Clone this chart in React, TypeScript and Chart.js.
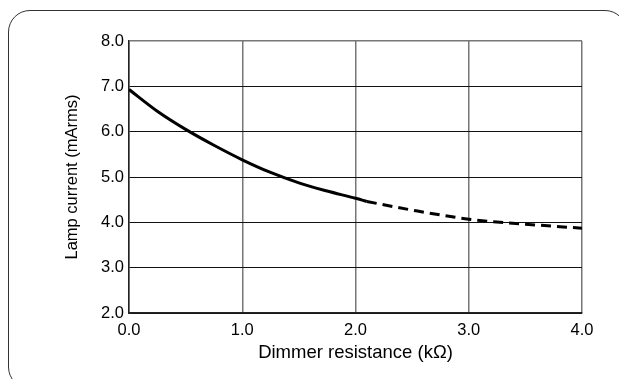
import React, { useEffect, useRef } from "react";
import { Chart, registerables } from "chart.js";

Chart.register(...registerables);

// Dimmer resistance (kΩ) and lamp current (mArms)
const solidX = [0, 0.25, 0.5, 0.75, 1.0, 1.25, 1.5, 1.75, 2.0, 2.1];
const solidY = [6.93, 6.45, 6.05, 5.70, 5.38, 5.10, 4.87, 4.69, 4.53, 4.46];
const dashedX = [2.1, 2.5, 3.0, 3.5, 4.0];
const dashedY = [4.46, 4.27, 4.07, 3.96, 3.87];
const xTicks = [0, 1, 2, 3, 4];
const yTicks = [2, 3, 4, 5, 6, 7, 8];

const FONT = "'Liberation Sans', Arial, Helvetica, sans-serif";

export default function App() {
  const ref = useRef<HTMLCanvasElement>(null);

  useEffect(() => {
    if (!ref.current) return;
    const chart = new Chart(ref.current, {
      type: "line",
      data: {
        datasets: [
          {
            data: solidX.map((x, i) => ({ x, y: solidY[i] })),
            borderColor: "#000",
            borderWidth: 3,
            pointRadius: 0,
            cubicInterpolationMode: "monotone",
            fill: false,
          },
          {
            data: dashedX.map((x, i) => ({ x, y: dashedY[i] })),
            borderColor: "#000",
            borderWidth: 3,
            borderDash: [10, 6],
            pointRadius: 0,
            cubicInterpolationMode: "monotone",
            fill: false,
          },
        ],
      },
      options: {
        animation: false,
        responsive: false,
        devicePixelRatio: 1,
        layout: { padding: { left: 0, top: 41, right: 37, bottom: 0 } },
        plugins: { legend: { display: false }, tooltip: { enabled: false } },
        scales: {
          x: {
            type: "linear",
            min: 0,
            max: 4,
            afterBuildTicks: (s: any) => {
              s.ticks = xTicks.map((v) => ({ value: v }));
            },
            afterFit: (s: any) => {
              s.height = 66;
            },
            ticks: {
              color: "#000",
              font: { family: FONT, size: 16.5 },
              padding: 8,
              callback: (v: any) => Number(v).toFixed(1),
              maxRotation: 0,
            },
            grid: {
              color: "#777",
              lineWidth: 1.5,
              drawTicks: false,
            },
            border: { display: true, color: "#222", width: 1.5 },
            title: {
              display: true,
              text: "Dimmer resistance (kΩ)",
              color: "#000",
              font: { family: FONT, size: 18.5 },
              padding: { top: 0, bottom: 15 },
            },
          },
          y: {
            type: "linear",
            min: 2,
            max: 8,
            afterBuildTicks: (s: any) => {
              s.ticks = yTicks.map((v) => ({ value: v }));
            },
            afterFit: (s: any) => {
              s.width = 129;
            },
            ticks: {
              color: "#000",
              font: { family: FONT, size: 16.5 },
              padding: 5,
              callback: (v: any) => Number(v).toFixed(1),
            },
            grid: {
              color: (ctx: any) => (ctx.tick && ctx.tick.value === 8 ? "#777" : "#111"),
              lineWidth: (ctx: any) => (ctx.tick && ctx.tick.value === 8 ? 1.5 : 1),
              drawTicks: false,
            },
            border: { display: true, color: "#222", width: 1.5 },
            title: {
              display: true,
              text: "Lamp current (mArms)",
              color: "#000",
              font: { family: FONT, size: 16.5 },
              padding: { top: 63, bottom: 0 },
            },
          },
        },
      },
    } as any);
    return () => chart.destroy();
  }, []);

  return (
    <div
      style={{
        position: "fixed",
        left: 0,
        top: 0,
        width: 619,
        height: 379,
        overflow: "hidden",
        background: "#fff",
      }}
    >
      <div
        style={{
          position: "absolute",
          left: 8,
          top: 10,
          width: 619,
          height: 379,
          boxSizing: "border-box",
          border: "1.5px solid #333",
          borderRadius: 22,
        }}
      />
      <canvas
        ref={ref}
        width={619}
        height={379}
        style={{ position: "absolute", left: 0, top: 0, width: 619, height: 379 }}
      />
    </div>
  );
}
